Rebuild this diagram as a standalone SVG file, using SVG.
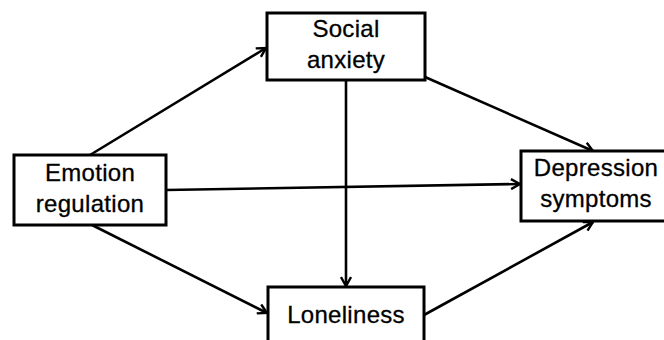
<svg xmlns="http://www.w3.org/2000/svg" width="664" height="340" viewBox="0 0 664 340">
<style>
.box{fill:#fff;stroke:#000;stroke-width:3}
.t{font-family:"Liberation Sans",Arial,sans-serif;font-size:24px;letter-spacing:0.3px;fill:#000;stroke:#000;stroke-width:0.3;text-anchor:middle}
.c{stroke:#000;stroke-width:2.6;fill:none;marker-end:url(#ah)}
</style>
<defs>
<marker id="ah" viewBox="0 0 12 12" refX="11" refY="6" markerWidth="12" markerHeight="12" markerUnits="userSpaceOnUse" orient="auto">
<path d="M2,1 L11,6 L2,11" fill="none" stroke="#000" stroke-width="2.4"/>
</marker>
</defs>
<g id="connectors">
<line class="c" x1="90" y1="155" x2="266" y2="48"/>
<line class="c" x1="425" y1="77" x2="593" y2="151"/>
<line class="c" x1="346" y1="80" x2="346" y2="286"/>
<line class="c" x1="166" y1="190" x2="520" y2="184"/>
<line class="c" x1="92" y1="225" x2="267" y2="313"/>
<line class="c" x1="424" y1="315" x2="593" y2="222"/>
</g>
<g id="emotion">
<rect class="box" x="14" y="155" width="152" height="70"/>
<text class="t" x="90" y="181">Emotion</text>
<text class="t" x="90" y="212">regulation</text>
</g>
<g id="social">
<rect class="box" x="267" y="13" width="158" height="67"/>
<text class="t" x="346" y="37">Social</text>
<text class="t" x="346" y="68">anxiety</text>
</g>
<g id="loneliness">
<rect class="box" x="268" y="287" width="156" height="60"/>
<text class="t" x="346" y="323">Loneliness</text>
</g>
<g id="depression">
<rect class="box" x="521" y="151" width="150" height="70"/>
<text class="t" x="596" y="176">Depression</text>
<text class="t" x="596" y="207">symptoms</text>
</g>
</svg>
